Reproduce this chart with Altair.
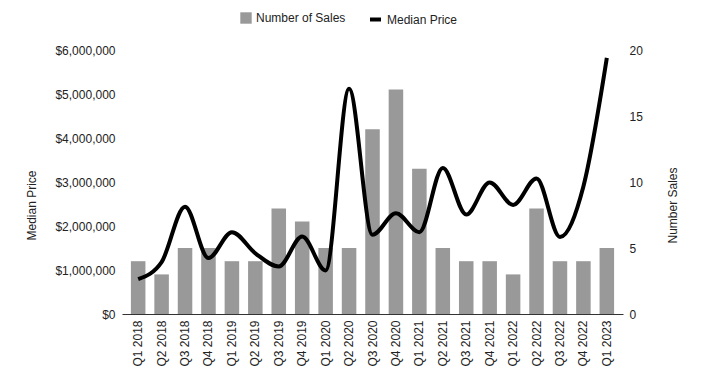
import altair as alt
import pandas as pd

quarters = ["Q1 2018", "Q2 2018", "Q3 2018", "Q4 2018", "Q1 2019", "Q2 2019", "Q3 2019",
            "Q4 2019", "Q1 2020", "Q2 2020", "Q3 2020", "Q4 2020", "Q1 2021", "Q2 2021",
            "Q3 2021", "Q4 2021", "Q1 2022", "Q2 2022", "Q3 2022", "Q4 2022", "Q1 2023"]
sales = [4, 3, 5, 5, 4, 4, 8, 7, 5, 5, 14, 17, 11, 5, 4, 4, 3, 8, 4, 4, 5]
price = [790000, 1180000, 2440000, 1270000, 1860000, 1380000, 1080000, 1760000, 990000,
         5120000, 1800000, 2290000, 1860000, 3320000, 2260000, 2990000, 2480000, 3080000,
         1750000, 2900000, 5820000]

price_grid = [i * 1000000 / 3 for i in range(19)]
sales_ticks = [0, 5, 10, 15, 20]

df = pd.DataFrame({"quarter": quarters, "sales": sales, "price": price})

FONT = "Liberation Sans"
TXT = "#222222"

major = "abs(datum.value/1000000 - round(datum.value/1000000)) < 0.001"

x_enc = alt.X(
    "quarter:N", sort=quarters,
    scale=alt.Scale(paddingInner=0.38, paddingOuter=0.38),
    axis=alt.Axis(title=None, labelAngle=-90, ticks=False, domainColor="#333333",
                  labelPadding=6, labelFontSize=12, labelColor=TXT, grid=False),
)

bars = alt.Chart(df).mark_bar(color="#999999").transform_calculate(
    series="'Number of Sales'"
).encode(
    x=x_enc,
    y=alt.Y("sales:Q", scale=alt.Scale(domain=[0, 20], nice=False),
            axis=alt.Axis(orient="right", title="Number Sales", values=sales_ticks,
                          grid=False, ticks=False, domain=False, labelPadding=6,
                          titlePadding=37, titleAngle=270, titleY=155,
                          labelFontSize=12, titleFontSize=12,
                          titleFontWeight="normal", labelColor=TXT, titleColor=TXT)),
    color=alt.Color("series:N",
                    scale=alt.Scale(domain=["Number of Sales"], range=["#999999"]),
                    legend=alt.Legend(title=None, orient="none", legendX=118, legendY=-38,
                                      symbolType="square", symbolSize=130,
                                      labelFontSize=12, labelColor=TXT,
                                      symbolStrokeWidth=0)),
)

line = alt.Chart(df).mark_line(strokeWidth=4, interpolate="monotone").transform_calculate(
    series2="'Median Price'"
).encode(
    x=x_enc,
    y=alt.Y("price:Q", scale=alt.Scale(domain=[0, 6000000], nice=False),
            axis=alt.Axis(orient="left", title="Median Price", values=price_grid,
                          labelExpr=f"{major} ? format(datum.value, '$,.0f') : ''",
                          gridColor={"condition": {"test": major, "value": "#cccccc"},
                                     "value": "#e6e6e6"},
                          ticks=False, domain=False, labelPadding=7, titlePadding=16,
                          titleY=155,
                          labelFontSize=12, titleFontSize=12, titleFontWeight="normal",
                          labelColor=TXT, titleColor=TXT)),
    stroke=alt.Stroke("series2:N",
                      scale=alt.Scale(domain=["Median Price"], range=["#000000"]),
                      legend=alt.Legend(title=None, orient="none", legendX=246, legendY=-38,
                                        symbolType="stroke", symbolSize=120,
                                        symbolStrokeWidth=4,
                                        labelFontSize=12, labelColor=TXT)),
)

chart = alt.layer(bars, line).resolve_scale(
    y="independent", color="independent", stroke="independent"
).properties(
    width=501, height=264,
    padding={"left": 114, "top": 42, "right": 72, "bottom": 67},
    autosize=alt.AutoSizeParams(type="none"),
).configure(font=FONT).configure_view(stroke=None)

chart.save("out.html", embed_options={"renderer": "svg", "actions": False})
